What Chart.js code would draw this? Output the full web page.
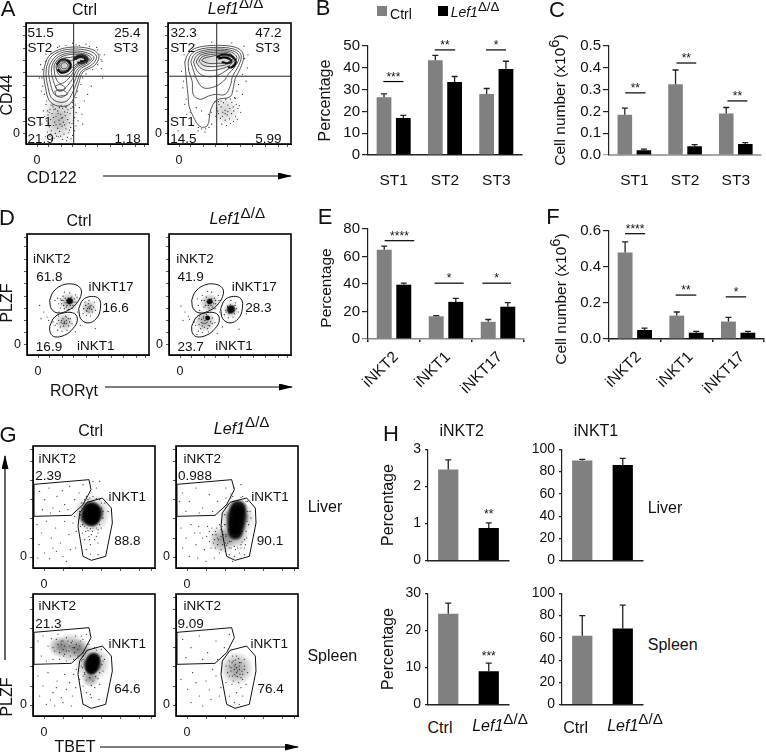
<!DOCTYPE html>
<html><head><meta charset="utf-8">
<script src="https://cdn.jsdelivr.net/npm/chart.js@4"></script>
<style>
html,body{margin:0;padding:0;background:#fff}
#page{position:relative;width:766px;height:754px;overflow:hidden;font-family:"Liberation Sans",Arial,sans-serif;color:#111}
canvas{position:absolute}
.t{position:absolute;transform:translate(-50%,-50%);white-space:nowrap;line-height:1}
.t sup{font-size:.95em;line-height:0;vertical-align:baseline;position:relative;top:-.42em;font-style:normal}
.sw{position:absolute;width:10px;height:10px}
svg{position:absolute;left:0;top:0}
</style></head><body><div id="page">
<svg width="766" height="754">
<defs><marker id="ah" markerWidth="14" markerHeight="8" refX="13" refY="3.5" orient="auto" markerUnits="userSpaceOnUse"><path d="M0,0L14,3.5L0,7Z" fill="#000"/></marker></defs>
<g stroke="#000" stroke-width="1.2" marker-end="url(#ah)">
<line x1="103" y1="176" x2="291" y2="176"/><line x1="105" y1="387" x2="292" y2="387"/>
<line x1="100" y1="747" x2="298" y2="747"/><line x1="5" y1="660" x2="5" y2="456"/></g></svg>
</div>
<script>
// ---------- bar chart data ----------
const stCats=['ST1','ST2','ST3'];
const nktCats=['iNKT2','iNKT1','iNKT17'];
const pairCats=['Ctrl','Lef1'];
const bCtrl=[26.5,43.5,28], bLef=[17,33.5,39.5], bCtrlTop=[28,45.7,30.5], bLefTop=[18.2,36,43];
const cCtrl=[.185,.325,.19], cLef=[.022,.04,.05], cCtrlTop=[.215,.39,.218], cLefTop=[.027,.048,.057];
const eCtrl=[65,16.5,12.5], eLef=[39.5,27,23.5], eCtrlTop=[67.5,17,14.2], eLefTop=[40.7,29.5,26.5];
const fCtrl=[.48,.13,.097], fLef=[.05,.035,.035], fCtrlTop=[.54,.15,.12], fLefTop=[.06,.042,.042];
const h1Vals=[2.46,.88], h1Tops=[2.72,1.02];
const h2Vals=[90,86], h2Tops=[91,92];
const h3Vals=[24.5,9], h3Tops=[27.4,11.2];
const h4Vals=[62,68.5], h4Tops=[80,89.5];
const sigB=[[-.2,.19,33.7,'***'],[.8,1.2,48.2,'**'],[1.8,2.19,48.2,'*']];
const sigC=[[-.18,.22,.285,'**'],[.83,1.22,.422,'**'],[1.835,2.23,.248,'**']];
const sigE=[[-.18,.39,71.5,'****'],[.78,1.34,40.6,'*'],[1.7,2.25,40.6,'*']];
const sigF=[[-.19,.2,.585,'****'],[.79,1.19,.244,'**'],[1.76,2.155,.234,'*']];
const sigH1=[[1,1,1.25,'**']], sigH3=[[1,1,13.2,'***']];
// ---------- flow cytometry data (arbitrary fluorescence units) ----------
const flowTicksA=[33,68,105,140,178,215,252,290,328,355];
const contoursACtrl=[
[[55,233],[68,265],[98,285],[138,293],[178,291],[208,281],[219,263],[205,237],[171,218],[158,183],[145,143],[128,118],[95,115],[70,131],[59,168],[53,208]],
[[62,235],[74,262],[100,280],[138,287],[176,285],[202,276],[212,262],[198,240],[166,220],[152,185],[138,152],[122,130],[98,127],[76,140],[66,172],[60,208]],
[[70,238],[82,258],[104,275],[138,281],[172,279],[196,270],[204,260],[190,243],[160,224],[146,190],[132,165],[116,145],[100,142],[84,152],[74,180],[68,212]],
[[78,238],[88,256],[108,270],[138,276],[170,274],[190,266],[196,258],[184,245],[156,228],[140,198],[126,178],[112,165],[100,162],[90,170],[82,192],[76,216]],
[[84,238],[94,254],[112,266],[138,271],[168,270],[186,262],[190,256],[178,246],[152,232],[136,208],[122,192],[110,184],[100,184],[92,194],[86,212]],
[[90,236],[98,250],[114,260],[134,262],[150,266],[170,267],[184,260],[184,252],[172,246],[150,236],[134,216],[118,206],[104,206],[94,218]],
[[94,236],[102,250],[118,256],[136,252],[150,260],[168,263],[180,258],[178,250],[166,246],[148,240],[132,226],[116,218],[102,222]],
[[98,236],[106,248],[120,250],[130,238],[124,226],[108,222]],
[[104,236],[110,245],[120,245],[126,236],[118,228],[108,229]],
[[88,175],[100,180],[112,176],[118,168],[106,160],[94,162]],
[[86,158],[100,164],[116,160],[124,150],[108,146],[92,146]]];
const heavyACtrl=[
[[142,254],[152,264],[170,268],[182,262],[184,252],[172,246],[154,246]],
[[148,256],[156,262],[170,263],[178,258],[176,251],[162,250]],
[[92,240],[104,254],[122,254],[134,240],[126,222],[106,216],[94,226]]];
const contoursALef=[
[[50,248],[60,273],[85,291],[135,298],[185,296],[215,285],[225,263],[215,228],[200,198],[195,173],[185,143],[145,133],[127,103],[117,55],[95,53],[75,83],[63,113],[60,143],[55,193]],
[[60,248],[68,270],[90,285],[135,292],[183,290],[210,280],[218,263],[208,232],[192,205],[186,178],[170,150],[140,150],[120,145],[95,135],[75,150],[72,190],[62,220]],
[[68,248],[76,268],[95,280],[135,287],[180,285],[204,276],[212,262],[200,235],[180,212],[165,190],[135,172],[105,170],[88,190],[78,215]],
[[76,248],[84,266],[100,276],[135,282],[178,281],[198,272],[205,260],[192,238],[170,220],[140,205],[110,205],[92,215],[82,230]],
[[84,248],[92,264],[105,272],[135,277],[175,277],[192,268],[198,258],[186,240],[160,228],[130,222],[105,225],[92,235]],
[[92,250],[100,262],[112,268],[140,272],[172,273],[188,265],[192,256],[180,243],[155,236],[128,234],[105,238]],
[[100,252],[108,260],[125,264],[145,268],[170,268],[184,262],[186,254],[176,246],[150,244],[120,244]]];
const heavyALef=[
[[145,262],[160,270],[185,268],[200,255],[200,242],[190,232],[178,232]],
[[150,258],[165,262],[182,258],[188,250],[178,245],[160,248]]];
const dotsACtrl=[[60,120],[72,105],[81,112],[95,100],[110,108],[126,104],[140,112],[150,95],[66,88],[78,92],[90,84],[104,90],[118,86],[132,92],[146,80],[156,70],[62,70],[74,74],[86,66],[99,72],[112,66],[125,74],[138,62],[150,55],[70,52],[82,56],[95,48],[108,54],[120,46],[134,50],[146,40],[64,36],[76,40],[88,32],[101,38],[114,30],[128,34],[140,26],[58,22],[72,24],[84,18],[97,22],[110,14],[124,20],[52,100],[48,60],[160,110],[168,90],[175,130],[185,150],[196,175],[228,250],[235,270],[226,228],[212,292],[180,302],[140,305],[100,296],[60,272],[44,240],[40,200],[46,160],[230,200],[170,60],[84,104],[102,60],[116,97],[68,62],[130,42],[90,58],[56,84],[142,70],[74,30],[106,78],
[150,300],[160,298],[190,295],[215,285],[222,270],[225,255],[215,240],[200,225],[180,212],[170,200],[165,180],[155,160],[150,140],[140,125],[120,112],[100,110],[80,118],[62,130],[55,150],[50,175],[48,200],[50,225],[58,250],[75,275],[95,292],[120,298],[65,100],[75,118],[88,106],[105,116],[120,112],[135,108],[148,118],[96,92],[110,80],[124,96],[82,80],[70,96],[116,58],[92,24],[130,64],[60,56],[104,24],[122,10],[135,16],[76,12]];
const softACtrl=[[100,95,18],[98,55,16],[165,258,11],[112,238,12]];
const dotsALef=[[140,128],[152,120],[165,125],[178,118],[190,126],[203,120],[145,108],[158,112],[170,102],[184,108],[196,100],[208,108],[150,92],[163,96],[176,88],[189,92],[201,84],[156,78],[170,72],[183,76],[195,68],[160,60],[174,56],[186,62],[222,150],[232,190],[236,230],[238,270],[226,296],[190,306],[130,308],[80,300],[48,270],[40,220],[44,170],[50,120],[56,90],[70,60],[90,40],[110,36],[130,60],[120,90],[100,100],[84,110],[40,80],[30,40],
[228,258],[222,210],[210,180],[205,160],[198,140],[150,128],[158,130],[172,134],[186,136],[212,116],[216,96],[206,74],[170,92],[162,84],[178,98],[194,112],[148,100],[142,84],[200,138],[130,96],[122,50],[112,46],[100,46],[90,50],[66,96],[54,136],[46,190]];
const softALef=[[170,100,14],[165,258,13],[110,255,13]];
const dEllipses=[
[[68,165],[78,190],[103,210],[133,215],[158,205],[163,185],[148,155],[123,135],[93,127],[73,140]],
[[155,140],[168,167],[193,177],[216,170],[220,140],[208,110],[183,97],[161,110]],
[[68,87],[83,115],[113,128],[143,125],[151,105],[138,80],[113,60],[83,55],[70,67]]];
const dotsDCtrl=[[95,155],[103,165],[110,150],[115,172],[120,158],[126,168],[130,150],[134,175],[138,160],[142,170],[118,145],[108,178],[100,142],[92,172],[146,182],[128,188],[112,190],[84,165],[150,160],[124,138],[136,142],[96,130],
[170,140],[176,150],[180,132],[184,155],[188,140],[192,150],[196,130],[200,145],[178,120],[190,118],[206,135],[168,125],[186,165],[202,160],
[85,90],[95,105],[100,85],[108,110],[112,95],[118,105],[125,88],[130,110],[105,72],[120,75],[92,75],[135,95],[115,118],[78,100],[102,98],[128,100],[110,88],[95,118],
[50,130],[60,115],[42,110],[152,130],[160,90],[65,105],[145,70],[38,150],[205,80],[230,130],
[122,165],[128,160],[126,155],[132,165],[118,165],[124,172],[130,172],[136,166],[120,150],[114,158],[108,165],[138,150],[144,160],[104,155],[100,170],[112,140],[150,175],[186,145],[182,140],[190,146],[178,135],[194,138],[186,130],[174,160],[113,100],[108,96],[118,95],[104,104],[124,110],[90,95],[118,115]];
const softDCtrl=[[125,160,10],[186,143,8],[113,100,9]];
const coreDCtrl=[[128,163,4]];
const dotsDLef=[[88,150],[98,165],[105,145],[112,175],[118,150],[124,165],[130,145],[136,172],[140,155],[148,180],[112,130],[100,180],[92,135],[85,170],[128,190],[116,192],[150,165],[122,135],[138,140],[104,118],
[170,135],[176,148],[180,125],[184,152],[188,135],[192,148],[196,125],[202,140],[178,112],[192,115],[208,130],[166,122],[186,165],[200,158],
[80,90],[90,110],[95,80],[103,112],[108,95],[114,108],[122,88],[130,112],[100,68],[118,70],[88,72],[138,98],[112,122],[76,100],[98,98],[125,100],[106,84],[92,118],[116,80],[84,62],
[48,130],[58,118],[42,105],[152,130],[160,85],[62,108],[145,65],[36,148],[210,78],[232,125],
[122,165],[118,155],[126,150],[130,160],[114,160],[128,170],[134,155],[110,150],[106,165],[120,142],[140,165],[186,140],[182,136],[190,142],[180,128],[194,134],[186,128],[176,145],[198,150],[172,130],[108,105],[102,96],[114,98],[98,108],[120,112],[90,92],[110,115],[118,90],[100,88],[130,95]];
const softDLef=[[122,158,10],[186,137,8],[108,102,11]];
const coreDLef=[[122,162,3.5],[186,138,5],[116,112,3]];
const gGate2=[[3,251],[168,265],[174,235],[150,190],[115,158],[3,155]];
const gGate1=[[140,165],[162,197],[208,210],[235,180],[238,135],[218,35],[175,23],[150,35],[135,125]];
const gGate2L=[[3,251],[167,265],[175,235],[152,190],[117,158],[3,155]];
const gGate1L=[[139,165],[162,197],[212,210],[238,180],[240,135],[220,35],[177,23],[152,35],[135,125]];
const flowTicksG=[33,90,148,206,262,320,355];
const dotsGLiverCtrl=[[20,230],[35,205],[48,240],[60,180],[72,215],[88,232],[95,190],[110,245],[125,205],[138,225],[150,250],[160,210],[28,175],[52,165],[80,170],[105,175],[12,130],[25,105],[40,140],[55,90],[68,120],[82,75],[95,140],[108,100],[120,135],[128,60],[18,70],[35,45],[50,28],[70,50],[90,35],[112,55],[130,110],[15,30],[140,150],[125,155],[150,155],[142,125],[148,105],[155,85],[168,95],[172,70],[185,85],[160,55],[195,75],[205,120],[210,150],[215,195],[200,205],[180,215],[165,205],[150,195],[145,180],[225,170],[190,240],[180,260],[200,260],[150,130],[162,120],[178,110],[195,105],[172,42],[195,40],[60,60],[100,20],
[140,170],[145,195],[155,205],[170,210],[190,208],[205,195],[210,170],[208,150],[200,130],[190,120],[172,118],[155,125],[148,145],[142,160],[160,215],[180,120],[165,112],[195,115],[205,180],[148,130],[158,110],[175,100],[190,95],[170,85]];
const softGLiverCtrl=[[176,163,19]];
const coreGLiverCtrl=[[174,174,10],[182,165,11],[170,155,11],[178,148,9]];
const dotsGLiverLef=[[20,225],[40,200],[60,240],[80,180],[100,220],[125,200],[150,240],[30,170],[70,165],[110,170],[15,120],[30,90],[45,130],[60,70],[72,105],[85,55],[95,125],[100,80],[110,100],[118,60],[122,120],[128,85],[130,45],[140,110],[140,70],[145,130],[148,50],[150,95],[155,75],[158,115],[160,60],[135,95],[125,70],[112,75],[105,60],[92,95],[80,90],[68,125],[55,105],[20,60],[40,35],[65,30],[90,20],[115,30],[160,40],[175,35],[190,45],[205,60],[212,90],[218,130],[222,170],[215,200],[200,215],[165,210],[148,180],[205,40],[170,20],[195,250],[175,240],[225,150],[100,110],[120,100],[135,55],[152,68],[165,80],[195,60],[178,55],[10,200],
[150,210],[170,215],[195,212],[210,200],[215,170],[213,140],[210,110],[205,85],[195,70],[175,65],[160,80],[150,100],[147,130],[146,160],[152,190],[148,75],[135,115],[130,130],[125,90],[118,110],[115,85],[108,120],[138,125],[142,100],[165,60],[185,60],[198,78],[208,70],[165,222]];
const softGLiverLef=[[183,150,18],[178,100,14],[138,85,14]];
const coreGLiverLef=[[186,178,10],[183,155,12],[180,130,11],[178,108,9]];
const dotsGSpleenCtrl=[[15,225],[30,240],[45,210],[55,232],[65,195],[75,245],[85,215],[92,180],[100,235],[108,195],[115,220],[122,170],[128,240],[135,200],[142,225],[150,180],[160,245],[168,215],[25,180],[40,165],[60,170],[80,170],[100,165],[160,195],[150,170],[145,150],[155,130],[15,120],[30,90],[45,130],[60,70],[72,105],[85,55],[95,125],[100,80],[110,100],[118,60],[122,125],[128,85],[20,60],[40,35],[65,30],[90,40],[115,30],[130,140],[140,110],[150,90],[160,70],[172,65],[185,85],[200,95],[210,135],[215,170],[205,200],[185,205],[175,55],[198,50],[70,85],[52,48],[80,190],[95,210],[110,210],[125,190],[90,200],[105,225],[120,205],[135,180],
[150,190],[155,198],[170,200],[190,198],[205,180],[207,155],[200,130],[188,118],[170,115],[155,125],[148,145],[146,165],[160,108],[180,105],[175,92],[195,112],[210,165],[150,120],[90,225],[100,195],[118,225],[130,215],[75,215],[60,205],[140,210],[150,230],[145,240],[95,185],[112,180],[125,205],[85,225],[70,230]];
const softGSpleenCtrl=[[112,205,15],[78,208,11],[142,200,11],[178,158,18],[172,112,9]];
const coreGSpleenCtrl=[[182,170,8],[178,155,10],[175,142,7]];
const dotsGSpleenLef=[[20,230],[45,205],[70,240],[95,190],[120,225],[145,205],[160,245],[30,175],[80,170],[125,170],[15,110],[35,80],[50,130],[70,60],[90,105],[105,50],[120,120],[135,85],[45,40],[80,30],[150,150],[160,120],[168,95],[172,165],[180,120],[190,150],[200,110],[205,170],[195,85],[182,70],[160,60],[170,180],[215,130],[150,100],[175,140],[185,135],[178,155],[192,125],[165,135],[195,160],[172,105],[188,100],[205,140],[160,165],[182,180],[210,95],[200,60],[175,40],[190,35],[130,60],[110,140],[60,100],[100,78],
[160,150],[168,160],[175,150],[182,145],[190,140],[198,135],[182,130],[176,125],[190,160],[170,120],[185,118],[200,125],[178,168],[165,145],[188,172],[205,150],[155,130],[195,115]];
const softGSpleenLef=[[182,142,17]];
const coreGSpleenLef=[];

// ---------- helpers ----------
const page=document.getElementById('page');
const GRAY='#808080',BLK='#000';
const FONT='"Liberation Sans",Arial,sans-serif';
Chart.defaults.font.family=FONT;Chart.defaults.color='#111';Chart.defaults.animation=false;
Chart.defaults.responsive=false;Chart.defaults.devicePixelRatio=1;
function mkCanvas(l,t,w,h){const c=document.createElement('canvas');c.width=w;c.height=h;c.style.left=l+'px';c.style.top=t+'px';c.style.width=w+'px';c.style.height=h+'px';page.appendChild(c);return c;}
function txt(html,x,y,size,opts){opts=opts||{};const d=document.createElement('div');d.className='t';d.innerHTML=html;d.style.left=x+'px';d.style.top=y+'px';d.style.fontSize=size+'px';if(opts.rot)d.style.transform='translate(-50%,-50%) rotate(-90deg)';page.appendChild(d);}
const LEF='<i>Lef1</i><sup>&#916;/&#916;</sup>';
function barPlugin(sig){return{id:'marks',afterDatasetsDraw(ch){const g=ch.ctx;g.save();
 ch.data.datasets.forEach((ds,di)=>{const m=ch.getDatasetMeta(di);(ds.errTop||[]).forEach((v,i)=>{const b=m.data[i];if(!b)return;const y=ch.scales.y.getPixelForValue(v);g.strokeStyle='#222';g.lineWidth=1.3;g.beginPath();g.moveTo(b.x,b.y);g.lineTo(b.x,y);g.moveTo(b.x-3,y);g.lineTo(b.x+3,y);g.stroke();});});
 (sig||[]).forEach(s=>{const x0=ch.scales.x.getPixelForValue(s[0]),x1=ch.scales.x.getPixelForValue(s[1]),y=ch.scales.y.getPixelForValue(s[2]);
  if(s[0]!==s[1]){g.strokeStyle='#000';g.lineWidth=1.2;g.beginPath();g.moveTo(x0,y);g.lineTo(x1,y);g.stroke();}
  g.fillStyle='#111';g.font='12px '+FONT;g.textAlign='center';g.textBaseline='alphabetic';g.fillText(s[3],(x0+x1)/2,y+(s[0]===s[1]?4:-1));});
 g.restore();}};}
function barChart(c){
 const wl=c.wl||50,pt=12,pr=c.pr===undefined?3:c.pr,hb=c.hb;
 const cv=mkCanvas(c.l-wl,c.t-pt,wl+c.w+pr,pt+c.h+hb);
 const datasets=c.series.map((s,i)=>({data:s.data,backgroundColor:s.color,errTop:s.top,barPercentage:c.barPct,categoryPercentage:c.catPct}));
 new Chart(cv,{type:'bar',data:{labels:c.labels,datasets},plugins:[barPlugin(c.sig)],options:{
  layout:{autoPadding:false,padding:{top:pt,right:pr,left:0,bottom:0}},
  plugins:{legend:{display:false},tooltip:{enabled:false}},
  scales:{
   x:{afterFit(s){s.height=hb;},offset:true,border:{color:c.xColor||'#222',width:c.xWidth||1.5},
      grid:{display:true,drawOnChartArea:false,drawTicks:!!c.xTick,tickLength:c.xTick||0,color:'#222',lineWidth:1.5},
      ticks:{display:!c.noXLabels,autoSkip:false,maxRotation:c.rot||0,minRotation:c.rot||0,padding:c.xPad,labelOffset:c.xOff||0,font:{size:c.xFont||15.5},color:'#111'}},
   y:{afterFit(s){s.width=wl;},min:c.min,max:c.max,ticks:{stepSize:c.step,padding:c.yPad===undefined?2:c.yPad,font:{size:c.yFont||15},color:'#111',callback:c.fmt||(v=>v)},
      border:{color:'#222',width:1.2},
      title:c.title?{display:true,text:c.title,font:{size:16},color:'#111',padding:0}:{display:false},
      grid:{drawOnChartArea:false,tickLength:c.yTick||6,color:ct=>(ct.tick&&ct.tick.value===0&&c.xColor)?c.xColor:'#222',lineWidth:1.2}}
  }}});
}
const f1=v=>Number(v).toFixed(1);
function flowPlugin(){return{id:'box',afterDraw(ch){const a=ch.chartArea,g=ch.ctx;g.save();g.strokeStyle='#000';g.lineWidth=1.6;g.strokeRect(a.left,a.top,a.right-a.left,a.bottom-a.top);g.restore();}};}
function closed(a){return a.concat([a[0]]);}
function glow(stops){return ctx=>{const r=ctx.raw;if(!Array.isArray(r))return 'rgba(0,0,0,0)';const ch=ctx.chart;const px=ch.scales.x.getPixelForValue(r[0]),py=ch.scales.y.getPixelForValue(r[1]);if(!isFinite(px)||!isFinite(py))return 'rgba(0,0,0,0)';const g=ch.ctx.createRadialGradient(px,py,0,px,py,r[2]);stops.forEach(s=>g.addColorStop(s[0],'rgba(0,0,0,'+s[1]+')'));return g;};}
function flow(c){
 const wl=26,pt=14,hb=28,pr=3;
 const cv=mkCanvas(c.l-wl,c.t-pt,wl+c.w+pr,pt+c.h+hb);
 const ds=[];const sa=c.softAlpha||.4;
 if(c.soft&&c.soft.length)ds.push({type:'bubble',data:c.soft,backgroundColor:glow([[0,sa],[.5,sa*.6],[1,0]]),hoverRadius:0,borderWidth:0});
 if(c.core&&c.core.length)ds.push({type:'bubble',data:c.core,backgroundColor:glow([[0,.98],[.6,.9],[1,0]]),hoverRadius:0,borderWidth:0});
 ds.push({data:c.dots,pointRadius:.6,pointBackgroundColor:'#222',pointBorderWidth:0,showLine:false});
 (c.lines||[]).forEach(p=>ds.push({data:closed(p),showLine:true,pointRadius:0,borderColor:'#444',borderWidth:.9,tension:.35}));
 (c.heavy||[]).forEach(p=>ds.push({data:p,showLine:true,pointRadius:0,borderColor:'#000',borderWidth:2.2,tension:.35}));
 (c.gates||[]).forEach(p=>ds.push({data:closed(p),showLine:true,pointRadius:0,borderColor:'#111',borderWidth:1,tension:c.gateTension||0}));
 (c.cross||[]).forEach(p=>ds.push({data:p,showLine:true,pointRadius:0,borderColor:'#222',borderWidth:1}));
 const axis=(ticks,zero,isY)=>({min:0,max:366,
   afterFit(s){if(isY)s.width=wl;else s.height=hb;},
   afterBuildTicks(s){s.ticks=ticks.map(v=>({value:v}));},
   ticks:{autoSkip:false,maxRotation:0,includeBounds:false,padding:isY?3:6,font:{size:12.5},color:'#111',callback:v=>v===zero?'0':''},
   border:{color:'#000',width:1},
   grid:{drawOnChartArea:false,tickLength:3,color:'#333',lineWidth:.8}});
 new Chart(cv,{type:'scatter',data:{datasets:ds},plugins:[flowPlugin()],options:{
  layout:{autoPadding:false,padding:{top:pt,right:pr,left:0,bottom:0}},
  plugins:{legend:{display:false},tooltip:{enabled:false}},
  elements:{line:{fill:false}},
  scales:{x:axis(c.tx,c.zx,false),y:axis(c.ty,c.zy,true)}}});
}
// ---------- bar panels ----------
const W2={barPct:.765,catPct:.752};
barChart({...W2,l:368,t:46,w:156,h:109,hb:40,wl:52,labels:stCats,series:[{data:bCtrl,top:bCtrlTop,color:GRAY},{data:bLef,top:bLefTop,color:BLK}],min:0,max:50,step:10,sig:sigB,xPad:16,title:'Percentage'});
barChart({...W2,l:609,t:46,w:157,h:109,hb:40,wl:40,pr:0,labels:stCats,series:[{data:cCtrl,top:cCtrlTop,color:GRAY},{data:cLef,top:cLefTop,color:BLK}],min:0,max:.5,step:.1,fmt:f1,sig:sigC,xPad:16,xColor:'#a8a8a8',xWidth:2});
barChart({...W2,l:368,t:229,w:156,h:110,hb:62,wl:52,labels:nktCats,series:[{data:eCtrl,top:eCtrlTop,color:GRAY},{data:eLef,top:eLefTop,color:BLK}],min:0,max:80,step:20,sig:sigE,xPad:6,xOff:2,rot:45,xTick:3,xColor:'#8a8a8a',xWidth:1.5});
barChart({...W2,l:609,t:231,w:155,h:108,hb:62,wl:40,pr:2,labels:nktCats,series:[{data:fCtrl,top:fCtrlTop,color:GRAY},{data:fLef,top:fLefTop,color:BLK}],min:0,max:.6,step:.2,fmt:f1,sig:sigF,xPad:6,xOff:4,rot:45,xTick:3,xWidth:1.5});
const H={barPct:.5,catPct:1,w:81,wl:38,noXLabels:true,hb:8,yFont:14,yTick:3,yPad:4,xPad:0};
barChart({...H,l:428,t:449,h:116,labels:pairCats,series:[{data:h1Vals,top:h1Tops,color:[GRAY,BLK]}],min:0,max:3,step:1,sig:sigH1,wl:49,title:'Percentage'});
barChart({...H,l:562,t:449,h:116,labels:pairCats,series:[{data:h2Vals,top:h2Tops,color:[GRAY,BLK]}],min:0,max:100,step:20});
barChart({...H,l:428,t:593,h:116,labels:pairCats,series:[{data:h3Vals,top:h3Tops,color:[GRAY,BLK]}],min:0,max:30,step:10,sig:sigH3,wl:49,title:'Percentage'});
barChart({...H,l:562,t:593,h:116,labels:pairCats,series:[{data:h4Vals,top:h4Tops,color:[GRAY,BLK]}],min:0,max:100,step:20});
// ---------- flow panels ----------
const crossA=[[[143,0],[143,366]],[[0,205],[366,205]]];
const crossAL=[[[145,0],[145,366]],[[0,205],[366,205]]];
flow({l:26,t:23,w:122,h:121,tx:flowTicksA,ty:flowTicksA,zx:33,zy:33,dots:dotsACtrl,soft:softACtrl,softAlpha:.2,lines:contoursACtrl,heavy:heavyACtrl,cross:crossA});
flow({l:168,t:23,w:123,h:121,tx:flowTicksA,ty:flowTicksA,zx:33,zy:33,dots:dotsALef,soft:softALef,softAlpha:.18,lines:contoursALef,heavy:heavyALef,cross:crossAL});
flow({l:27,t:234,w:122,h:121,tx:flowTicksA,ty:flowTicksA,zx:33,zy:33,dots:dotsDCtrl,soft:softDCtrl,softAlpha:.35,core:coreDCtrl,gates:dEllipses,gateTension:.4});
flow({l:169,t:234,w:122,h:121,tx:flowTicksA,ty:flowTicksA,zx:33,zy:33,dots:dotsDLef,soft:softDLef,softAlpha:.35,core:coreDLef,gates:dEllipses,gateTension:.4});
flow({l:33,t:446,w:122,h:122,tx:flowTicksG,ty:flowTicksG,zx:33,zy:33,dots:dotsGLiverCtrl,soft:softGLiverCtrl,core:coreGLiverCtrl,gates:[gGate2,gGate1]});
flow({l:176,t:446,w:122,h:122,tx:flowTicksG,ty:flowTicksG,zx:33,zy:33,dots:dotsGLiverLef,soft:softGLiverLef,core:coreGLiverLef,gates:[gGate2L,gGate1L]});
flow({l:33,t:594,w:122,h:122,tx:flowTicksG,ty:flowTicksG,zx:33,zy:33,dots:dotsGSpleenCtrl,soft:softGSpleenCtrl,core:coreGSpleenCtrl,gates:[gGate2,gGate1]});
flow({l:176,t:594,w:122,h:122,tx:flowTicksG,ty:flowTicksG,zx:33,zy:33,dots:dotsGSpleenLef,soft:softGSpleenLef,core:coreGSpleenLef,gates:[gGate2L,gGate1L]});
// ---------- text ----------
[['A',8,9],['B',323,8],['C',557,10],['D',7,218],['E',325,217],['F',553,217],['G',8,435],['H',391,434]].forEach(a=>txt(a[0],a[1],a[2],22));
const labels=[['Ctrl',84.5,10,16],[LEF,235.7,9,16],['Ctrl',79,220.7,16],[LEF,237.3,219,16],['Ctrl',90.7,430.7,16],[LEF,241.7,428.5,16],
['CD122',51.7,178.3,16],['ROR&gamma;t',74,390.7,16],['TBET',75,746.7,16],
['51.5',40.7,33.3],['ST2',40,48.3],['25.4',127.3,33.3],['ST3',126,48.3],['ST1',39.3,122.3],['21.9',40.7,139],['1.18',127.7,139],
['32.3',183.7,33.3],['ST2',182.7,48.3],['47.2',268.3,33.3],['ST3',267.7,48.3],['ST1',182.3,122.3],['14.5',183.3,139],['5.99',268.3,139],
['iNKT2',51.7,259.3],['61.8',49.3,277.3],['iNKT17',111,286.7],['16.6',115.7,308.3],['16.9',49,347],['iNKT1',95.7,346],
['iNKT2',195,259.3],['41.9',190.7,277.3],['iNKT17',254.3,286.7],['28.3',258.3,308.3],['23.7',190.7,347],['iNKT1',234,346],
['iNKT2',57.3,459],['2.39',48.3,475.7],['iNKT1',127.3,496.7],['88.8',127.3,540.7],
['iNKT2',202.3,459],['0.988',195,475.7],['iNKT1',270,496.7],['90.1',270,540.7],
['iNKT2',57.3,606],['21.3',48.3,624],['iNKT1',127.3,644],['64.6',127.3,689.3],
['iNKT2',202.3,606],['9.09',190.7,624],['iNKT1',269.3,644],['76.4',270.7,689.3],
['Liver',325,507.3,16],['Spleen',332.3,656,16],
['iNKT2',461.7,430.7,16],['iNKT1',596,430.7,16],['Liver',665,507.7,16],['Spleen',672.7,645,16],
['Ctrl',440,728.3,16],[LEF,500,725.5,16],['Ctrl',575.7,728.3,16],[LEF,635,725.5,16],
['Ctrl',401,14,14],[LEF,475,12,14]];
labels.forEach(a=>txt(a[0],a[1],a[2],a[3]||13.5));
[['CD44',6.7,95],['PLZF',7.3,303.3],['PLZF',6.7,697],['Percentage',326,288],['Cell number (x10<sup>6</sup>)',560,100],['Cell number (x10<sup>6</sup>)',560.7,299]].forEach(a=>txt(a[0],a[1],a[2],a[0].length>8?15.5:16,{rot:true}));
[[377,GRAY],[438,BLK]].forEach(a=>{const d=document.createElement('div');d.className='sw';d.style.left=a[0]+'px';d.style.top='6px';d.style.background=a[1];page.appendChild(d);});
</script></body></html>
